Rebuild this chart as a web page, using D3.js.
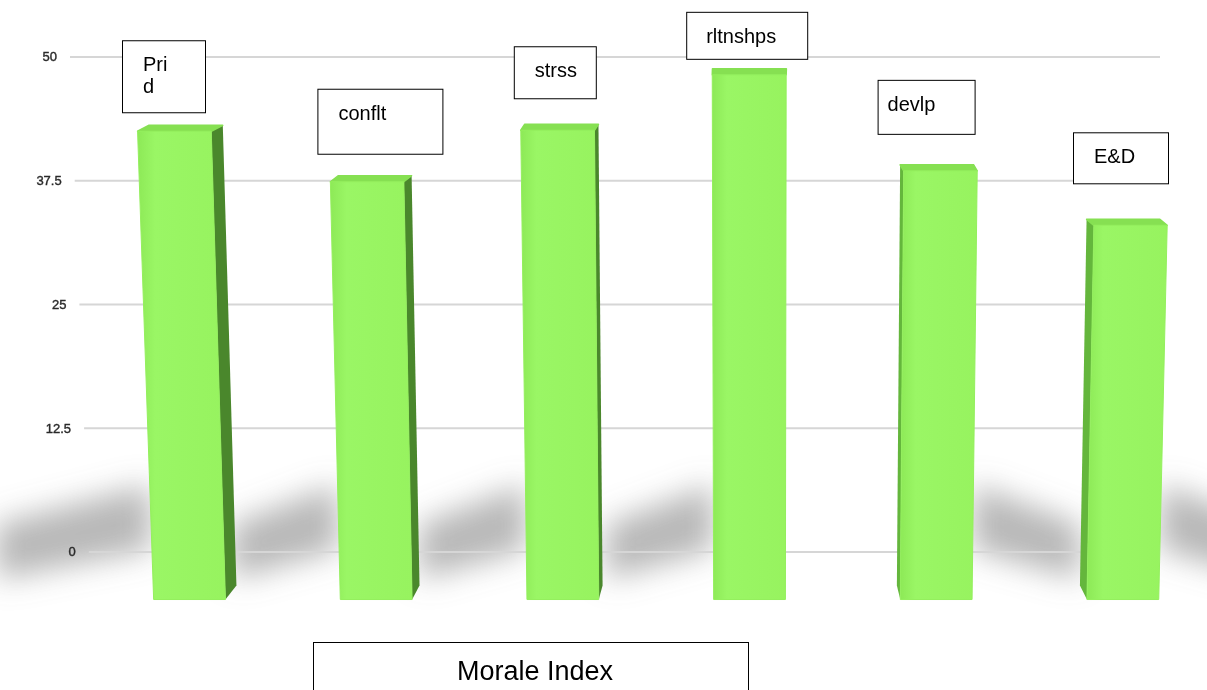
<!DOCTYPE html>
<html>
<head>
<meta charset="utf-8">
<script src="https://cdn.jsdelivr.net/npm/d3@7"></script>
<style>
  body { margin: 0; background: #fff; }
  svg { display: block; font-family: "Liberation Sans", Arial, sans-serif; }
</style>
</head>
<body>
<div id="wrapper"></div>
<script>
// DATA
const categories = ['Prid', 'conflt', 'strss', 'rltnshps', 'devlp', 'E&D']
const values = [42.5, 37.4, 42.6, 48.2, 38.5, 33.0]
const labelLines = [['Pri', 'd'], ['conflt'], ['strss'], ['rltnshps'], ['devlp'], ['E&D']]
const yTicks = [0, 12.5, 25, 37.5, 50]
const tickLabels = ['0', '12.5', '25', '37.5', '50']
const axisTitle = 'Morale Index'

// label box placement relative to each bar (hand placed in the original)
const boxLayout = [
  { dx: -50, gap: 19, w: 83, h: 72, pad: 21 },
  { dx: -47, gap: 28, w: 125, h: 65, pad: 21 },
  { dx: -43, gap: 32, w: 82, h: 52, pad: 21 },
  { dx: -63, gap: 16, w: 121, h: 47, pad: 20 },
  { dx: -64, gap: 37, w: 97, h: 54, pad: 10 },
  { dx: -61, gap: 42, w: 95, h: 51, pad: 21 }
]

function drawChart() {
  const width = 1207
  const height = 690
  const plotLeft = 70
  const plotRight = 1160
  const floorValue = -4.8   // bars sink below the 0 line (3d look)
  const barW = 74

  // fake perspective: things lean toward a vanishing x
  const vx = 760, k = 5.5e-5, yRef = 57
  const proj = (x, y) => [x + (vx - x) * k * (y - yRef), y]
  const pts = arr => arr.map(p => proj(p[0], p[1]).join(',')).join(' ')

  const svg = d3.select('#wrapper')
    .append('svg')
    .attr('width', width)
    .attr('height', height)

  const defs = svg.append('defs')
  defs.append('filter')
    .attr('id', 'blur')
    .attr('x', '-50%').attr('y', '-50%')
    .attr('width', '200%').attr('height', '200%')
    .append('feGaussianBlur')
    .attr('stdDeviation', 15)

  const frontGrad = defs.append('linearGradient').attr('id', 'front')
  frontGrad.append('stop').attr('offset', '0%').attr('stop-color', '#8de957')
  frontGrad.append('stop').attr('offset', '20%').attr('stop-color', '#9af665')
  frontGrad.append('stop').attr('offset', '100%').attr('stop-color', '#97f35f')

  // SCALES
  const yScale = d3.scaleLinear()
    .domain([0, 50])
    .range([552, 57])

  const xScale = d3.scalePoint()
    .domain(categories)
    .range([172, 1134])

  const yb = yScale(floorValue)

  // shadows on the floor
  const shadows = svg.append('g').attr('filter', 'url(#blur)')
  categories.forEach((c, i) => {
    const cx = xScale(c)
    const d = (vx - cx) * 0.02
    const dir = cx < 800 ? -1 : 1
    const L = i === 0 ? 160 : 110
    const edge = dir < 0 ? cx - barW / 2 : cx + barW / 2 + Math.max(d, 0)
    shadows.append('polygon')
      .attr('points', pts([
        [edge, yb - 115],
        [edge + dir * L, yb - 75],
        [edge + dir * L, yb - 20],
        [edge, yb - 50]
      ]))
      .attr('fill', '#7d7d7d')
      .attr('opacity', 0.55)
  })

  // GRIDLINES + tick labels
  const grid = svg.append('g')
  yTicks.forEach((t, i) => {
    const y = yScale(t)
    const a = proj(plotLeft, y)
    const b = proj(plotRight, y)
    grid.append('line')
      .attr('x1', a[0]).attr('y1', y)
      .attr('x2', b[0]).attr('y2', y)
      .attr('stroke', '#d6d6d6')
      .attr('stroke-width', 2)
    grid.append('text')
      .attr('x', a[0] - 13)
      .attr('y', y + 1)
      .attr('text-anchor', 'end')
      .attr('dominant-baseline', 'middle')
      .attr('fill', '#2a2a2a')
      .attr('stroke', '#2a2a2a')
      .attr('stroke-width', 0.4)
      .style('font-size', '13px')
      .text(tickLabels[i])
  })

  // BARS
  const bars = svg.append('g')
  categories.forEach((c, i) => {
    const cx = xScale(c)
    const xl = cx - barW / 2
    const xr = cx + barW / 2
    const yt = yScale(values[i])
    const d = (vx - cx) * 0.02
    const g = bars.append('g')

    if (d > 1) {
      g.append('polygon')
        .attr('points', pts([[xr, yt], [xr + d, yt - 6], [xr + d, yb - 14], [xr, yb]]))
        .attr('fill', '#4a872c')
    } else if (d < -1) {
      g.append('polygon')
        .attr('points', pts([[xl, yt], [xl + d, yt - 6], [xl + d, yb - 14], [xl, yb]]))
        .attr('fill', '#64b63c')
    }

    g.append('polygon')
      .attr('points', pts([[xl, yt], [xr, yt], [xr + d, yt - 6], [xl + d, yt - 6]]))
      .attr('fill', '#86e052')
      .attr('stroke', '#86e052')
      .attr('stroke-linejoin', 'round')
      .attr('stroke-width', 1.5)

    g.append('polygon')
      .attr('points', pts([[xl, yt], [xr, yt], [xr, yb], [xl, yb]]))
      .attr('fill', 'url(#front)')
      .attr('stroke', '#94ef5e')
      .attr('stroke-linejoin', 'round')
      .attr('stroke-width', 1)
  })

  // LABEL BOXES
  const labels = svg.append('g')
  categories.forEach((c, i) => {
    const b = boxLayout[i]
    const left = xScale(c) + b.dx
    const top = yScale(values[i]) - b.gap - b.h
    labels.append('rect')
      .attr('x', left + 0.5)
      .attr('y', top + 0.5)
      .attr('width', b.w)
      .attr('height', b.h)
      .attr('fill', '#fff')
      .attr('stroke', '#000')
      .attr('stroke-width', 1)
    const txt = labels.append('text')
      .attr('x', left + b.pad)
      .attr('y', top + 31)
      .attr('fill', '#000')
      .style('font-size', '20px')
    labelLines[i].forEach((line, j) => {
      txt.append('tspan')
        .attr('x', left + b.pad)
        .attr('dy', j === 0 ? 0 : 22)
        .text(line)
    })
  })

  // axis title box
  svg.append('rect')
    .attr('x', 313.5)
    .attr('y', 642.5)
    .attr('width', 435)
    .attr('height', 80)
    .attr('fill', '#fff')
    .attr('stroke', '#000')
    .attr('stroke-width', 1)

  svg.append('text')
    .attr('x', 535)
    .attr('y', 680)
    .attr('text-anchor', 'middle')
    .attr('fill', '#000')
    .style('font-size', '27px')
    .text(axisTitle)
}

drawChart()
</script>
</body>
</html>
